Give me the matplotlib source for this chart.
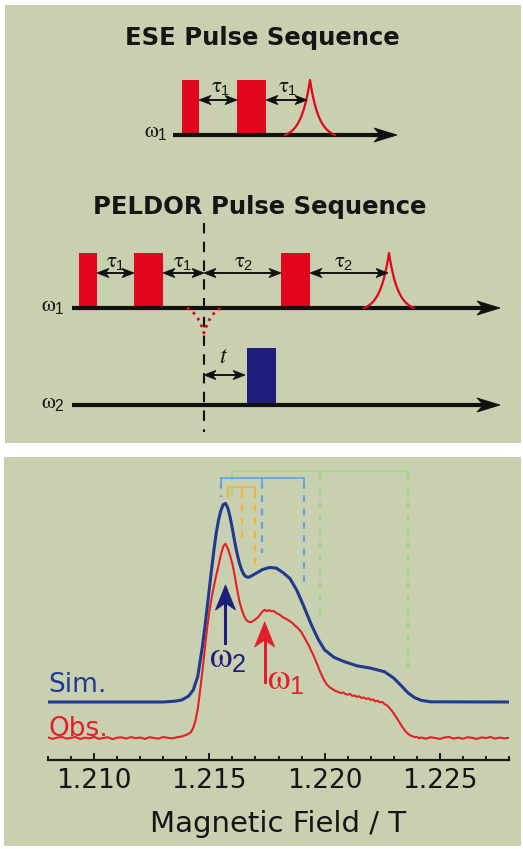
import numpy as np
import matplotlib
matplotlib.use('Agg')
import matplotlib.pyplot as plt
from matplotlib.patches import Rectangle, Polygon
from matplotlib.ticker import MultipleLocator, FixedLocator

plt.rcParams['font.family'] = ['DejaVu Sans']
plt.rcParams['mathtext.fontset'] = 'custom'
plt.rcParams['mathtext.rm'] = 'Liberation Sans'
plt.rcParams['mathtext.it'] = 'STIXGeneral'

# ---- data (field in T, normalised intensity) ----
field_ticks = [1.210, 1.215, 1.220, 1.225]

sim_field = [1.2080, 1.2130, 1.2135, 1.2138, 1.2141, 1.2143, 1.2145, 1.2147, 1.2148,
             1.2149, 1.2150, 1.2151, 1.2152, 1.2153, 1.2154, 1.2155, 1.2156, 1.2157,
             1.2158, 1.2159, 1.2160, 1.2161, 1.2162, 1.2163, 1.2164, 1.2165, 1.2166,
             1.2167, 1.2168, 1.2170, 1.2173, 1.2176, 1.2179, 1.2182, 1.2185,
             1.2188, 1.2191, 1.2194, 1.2197, 1.2200, 1.2204, 1.2208, 1.2214, 1.2220,
             1.2226, 1.2230, 1.2233, 1.2236, 1.2239, 1.2242, 1.2246, 1.2280]
sim_int = [0.000, 0.000, 0.004, 0.010, 0.030, 0.060, 0.130, 0.280, 0.370,
           0.470, 0.570, 0.670, 0.765, 0.850, 0.915, 0.962, 0.992, 0.998,
           0.975, 0.930, 0.870, 0.805, 0.748, 0.700, 0.664, 0.640, 0.629,
           0.627, 0.632, 0.645, 0.665, 0.676, 0.673, 0.650, 0.620,
           0.560, 0.480, 0.395, 0.320, 0.262, 0.225, 0.205, 0.182, 0.170,
           0.152, 0.120, 0.085, 0.048, 0.022, 0.008, 0.001, 0.000]

obs_field = list(np.round(np.arange(1.2080, 1.21401, 0.0002), 4)) + \
            list(np.round(np.arange(1.2141, 1.22421, 0.0001), 4)) + \
            list(np.round(np.arange(1.2244, 1.22801, 0.0002), 4))
obs_int = [0.003, -0.004, 0.002, 0.006, -0.003, 0.001, 0.005, -0.005, 0.002, -0.002,
           0.006, -0.004, 0.000, 0.004, -0.006, 0.002, 0.003, -0.003, 0.005, -0.001,
           0.003, -0.005, 0.004, 0.000, -0.003, 0.005, 0.001, -0.002, 0.004, 0.008, 0.016,
           # 1.2141 .. 1.2242
           0.022, 0.030, 0.052, 0.090, 0.150, 0.245, 0.345, 0.455, 0.560, 0.650,
           0.720, 0.780, 0.835, 0.885, 0.940, 0.982, 0.996, 0.972, 0.936, 0.893,
           0.834, 0.766, 0.703, 0.660, 0.627, 0.606, 0.596, 0.594, 0.600, 0.609,
           0.618, 0.632, 0.648, 0.658, 0.650, 0.656, 0.649, 0.652, 0.640, 0.636,
           0.628, 0.618, 0.613, 0.606, 0.598, 0.590, 0.578, 0.568, 0.556, 0.542,
           0.520, 0.498, 0.478, 0.452, 0.428, 0.400, 0.372, 0.342, 0.316, 0.292,
           0.274, 0.262, 0.254, 0.246, 0.240, 0.236, 0.230, 0.234, 0.226, 0.222,
           0.226, 0.216, 0.218, 0.211, 0.214, 0.205, 0.208, 0.200, 0.204, 0.195,
           0.198, 0.188, 0.191, 0.183, 0.185, 0.174, 0.168, 0.156, 0.142, 0.126,
           0.108, 0.090, 0.070, 0.052, 0.036, 0.024, 0.014, 0.010, 0.004, 0.006,
           -0.002, 0.003,
           # 1.2244 .. 1.2280
           -0.004, 0.004, 0.000, -0.005, 0.003, 0.005, -0.003, 0.002, -0.004, 0.004,
           0.001, -0.005, 0.003, 0.000, 0.005, -0.003, 0.002, -0.002, 0.001]

# hyperfine stick brackets: field positions and lower ends of the dashed lines
green_sticks = [1.2160, 1.2198, 1.2236]
green_ends = [262, 145, 85]
blue_sticks = [1.2155, 1.2173, 1.2191]
blue_ends = [263, 207, 173]
orange_sticks = [1.2158, 1.2164, 1.2170]
orange_ends = [260, 222, 190]

BG = '#c8d0af'
RED = '#e2061c'
NAVY = '#1e1e7c'
SIMBLUE = '#1f3a8f'
OBSRED = '#e31f2a'

fig = plt.figure(figsize=(5.23, 8.49), dpi=100)
ov = fig.add_axes([0, 0, 1, 1])
ov.set_xlim(0, 523)
ov.set_ylim(849, 0)
ov.axis('off')
ov.add_patch(Rectangle((5, 5), 516, 438, fc=BG, ec='none', zorder=0))
ov.add_patch(Rectangle((4, 457), 517, 389, fc=BG, ec='none', zorder=0))


def head(tip, d, L, W, color, z=5):
    tx, ty = tip
    dx, dy = d
    nx, ny = -dy, dx
    pts = [(tx, ty),
           (tx - dx * L + nx * W, ty - dy * L + ny * W),
           (tx - dx * 0.72 * L, ty - dy * 0.72 * L),
           (tx - dx * L - nx * W, ty - dy * L - ny * W)]
    ov.add_patch(Polygon(pts, closed=True, fc=color, ec=color, lw=0.6, zorder=z,
                         clip_on=False))


def time_axis(x0, x1, y):
    ov.plot([x0, x1 - 15], [y, y], color='#111111', lw=3.0, solid_capstyle='butt', zorder=4)
    head((x1, y), (1, 0), 23, 7, '#111111')


def dbl_arrow(x0, x1, y):
    ov.plot([x0 + 6, x1 - 6], [y, y], color='#111111', lw=1.4, zorder=4)
    head((x1, y), (1, 0), 12, 4.6, '#111111')
    head((x0, y), (-1, 0), 12, 4.6, '#111111')


def pulse(x0, x1, top, base, color):
    ov.add_patch(Rectangle((x0, top), x1 - x0, base - top, fc=color, ec='none', zorder=3))


def echo(xc, top, base, half=25, style='-'):
    # cusp-shaped echo glyph, meeting the time axis at +-half
    xs = np.linspace(xc - half, xc + half, 101)
    g = np.exp(-np.abs(xs - xc) / 9.0)
    g0 = np.exp(-half / 9.0)
    ys = base - (base - top) * (g - g0) / (1 - g0)
    ov.plot(xs, ys, color=RED, lw=1.6 if style == '-' else 2.0, ls=style, zorder=4)


# ---- ESE pulse sequence ----
ov.text(262, 38, 'ESE Pulse Sequence', ha='center', va='center',
        fontsize=17.5, fontweight='bold', color='#151515')
time_axis(173, 397, 135)
pulse(182, 199, 80, 135, RED)
pulse(237, 266, 80, 135, RED)
echo(310, 80, 135)
dbl_arrow(199, 237, 100)
dbl_arrow(266, 307, 100)
ov.text(221, 87, r'$\tau_1$', ha='center', va='center', fontsize=15, color='#151515')
ov.text(288, 87, r'$\tau_1$', ha='center', va='center', fontsize=15, color='#151515')
ov.text(168, 132, r'$\omega_1$', ha='right', va='center', fontsize=16, color='#151515')

# ---- PELDOR pulse sequence ----
ov.text(260, 207, 'PELDOR Pulse Sequence', ha='center', va='center',
        fontsize=17.5, fontweight='bold', color='#151515')
time_axis(72, 500, 308)
time_axis(72, 500, 405)
pulse(79, 97, 253, 308, RED)
pulse(134, 163, 253, 308, RED)
pulse(281, 310, 253, 308, RED)
pulse(247, 276, 348, 405, NAVY)
echo(389, 253, 308)
echo(204, 333, 308, half=17, style=':')
ov.plot([204, 204], [223, 432], color='#111111', lw=1.5, dashes=(5, 4), zorder=4)
dbl_arrow(97, 134, 273)
dbl_arrow(163, 204, 273)
dbl_arrow(204, 281, 273)
dbl_arrow(310, 388, 273)
dbl_arrow(204, 245, 375)
for xc, lab in [(116, r'$\tau_1$'), (183, r'$\tau_1$'), (244, r'$\tau_2$'), (344, r'$\tau_2$')]:
    ov.text(xc, 262, lab, ha='center', va='center', fontsize=15, color='#151515')
ov.text(222, 357, 't', ha='center', va='center', fontsize=17, color='#151515',
        family='STIXGeneral', style='italic')
ov.text(65, 306, r'$\omega_1$', ha='right', va='center', fontsize=16, color='#151515')
ov.text(65, 403, r'$\omega_2$', ha='right', va='center', fontsize=16, color='#151515')

# ---- field-swept spectrum ----
ax = fig.add_axes([48 / 523, 89 / 849, 461 / 523, 298 / 849])
ax.patch.set_alpha(0)
ax.set_xlim(1.208, 1.228)
ax.set_ylim(0, 298)
for s in ['left', 'right', 'top']:
    ax.spines[s].set_visible(False)
ax.spines['bottom'].set_linewidth(1.6)
ax.spines['bottom'].set_color('#1a1a1a')
ax.set_yticks([])
ax.xaxis.set_major_locator(FixedLocator(field_ticks))
ax.xaxis.set_minor_locator(MultipleLocator(0.001))
ax.set_xticklabels(['%.3f' % v for v in field_ticks])
ax.tick_params(axis='x', which='both', direction='in', width=1.4, color='#1a1a1a',
               labelsize=19, pad=6, labelcolor='#151515')
ax.tick_params(axis='x', which='major', length=5)
ax.tick_params(axis='x', which='minor', length=3)
ax.set_xlabel('Magnetic Field / T', fontsize=21, labelpad=11, color='#151515')

sim_y = 58 + 199 * np.array(sim_int)
obs_y = 22 + 195 * np.array(obs_int)
ax.plot(sim_field, sim_y, color=SIMBLUE, lw=2.2, zorder=3, solid_joinstyle='round')
ax.plot(obs_field, obs_y, color=OBSRED, lw=1.5, zorder=3, solid_joinstyle='round')


def sticks(fs, ends, yb, color):
    ax.plot([fs[0], fs[-1]], [yb, yb], color=color, lw=1.2, zorder=2)
    for f, e in zip(fs, ends):
        ax.plot([f, f], [yb, yb - 3], color=color, lw=1.2, zorder=2)
        ax.plot([f, f], [yb - 4, e], color=color, lw=1.6, dashes=(3, 3), zorder=2)


sticks(green_sticks, green_ends, 289, '#9bd882')
sticks(blue_sticks, blue_ends, 282, '#5ea3e2')
sticks(orange_sticks, orange_ends, 273, '#f3b23c')


def vert_arrow(f, y0, y1, color):
    x0, yb = ov.transData.inverted().transform(ax.transData.transform((f, y0)))
    _, yt = ov.transData.inverted().transform(ax.transData.transform((f, y1)))
    ov.plot([x0, x0], [yb, yt + 15], color=color, lw=2.2, zorder=5)
    head((x0, yt), (0, -1), 25, 10, color)


vert_arrow(1.2157, 117, 175, NAVY)
vert_arrow(1.2174, 78, 138, OBSRED)
ax.text(1.21578, 102, r'$\omega_2$', ha='center', va='center', fontsize=26, color=NAVY)
ax.text(1.2175, 80, r'$\omega_1$', ha='left', va='center', fontsize=26, color=OBSRED)
ax.text(1.2080, 68, 'Sim.', ha='left', va='baseline', fontsize=19, color=SIMBLUE)
ax.text(1.2080, 24, 'Obs.', ha='left', va='baseline', fontsize=19, color=OBSRED)

fig.savefig('out.png', dpi=100, facecolor='white')
